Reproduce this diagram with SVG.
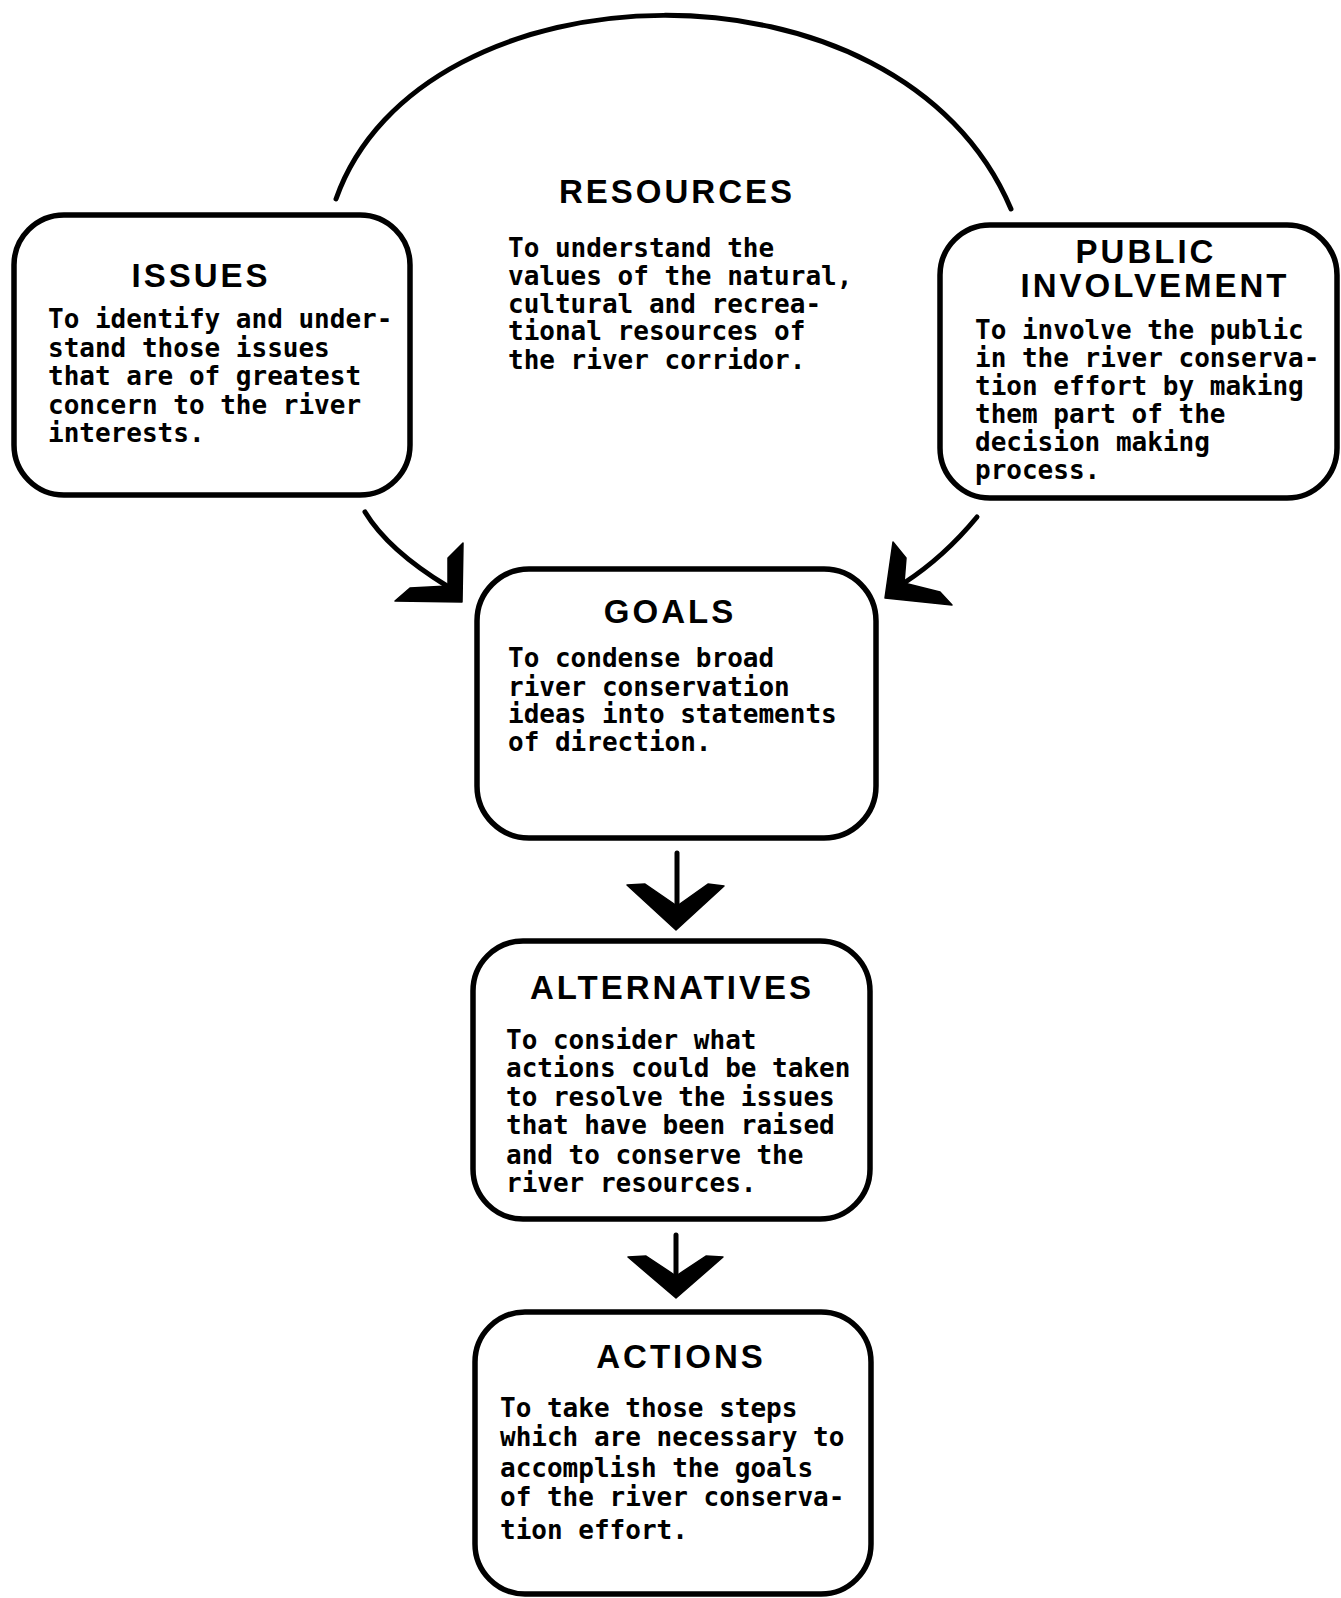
<svg xmlns="http://www.w3.org/2000/svg" width="1341" height="1598" viewBox="0 0 1341 1598">
<style>
.box{fill:#fff;stroke:#000;stroke-width:5.5}
.title{font-family:"Liberation Sans",Arial,sans-serif;font-weight:bold;font-size:33px;letter-spacing:3px;text-anchor:middle;fill:#000}
.body{font-family:"DejaVu Sans Mono","Liberation Mono",monospace;font-weight:bold;font-size:26px;fill:#000}
.line{fill:none;stroke:#000;stroke-width:5;stroke-linecap:round}
.head{fill:#000;stroke:#000;stroke-width:1.5;stroke-linejoin:round}
</style>
<rect width="1341" height="1598" fill="#fff"/>
<g id="connectors">
<path class="line" d="M336,199 C420,-40 900,-55 1011,209"/>
<path class="line" d="M365,512 Q388,550 447,586"/>
<polygon class="head" points="463,543 448,558 448,586 410,588 395,601 462,602"/>
<path class="line" d="M977,517 Q944,557 904,583"/>
<polygon class="head" points="893,542 906,558 904,583 940,592 952,605 885,598"/>
<path class="line" d="M677,853 L677,905"/>
<polygon class="head" points="627,885 645,884 677,906 708,884 724,886 676,930"/>
<path class="line" d="M676,1235 L676,1276"/>
<polygon class="head" points="628,1257 646,1256 676,1276 706,1256 723,1257 676,1298"/>
</g>
<g id="issues">
<rect class="box" x="14" y="215" width="396" height="280" rx="50"/>
<text class="title" x="201" y="287">ISSUES</text>
<text class="body" x="48" y="328">To identify and under-</text>
<text class="body" x="48" y="357">stand those issues</text>
<text class="body" x="48" y="385">that are of greatest</text>
<text class="body" x="48" y="414">concern to the river</text>
<text class="body" x="48" y="442">interests.</text>
</g>
<g id="resources">
<text class="title" x="677" y="203">RESOURCES</text>
<text class="body" x="508" y="257">To understand the</text>
<text class="body" x="508" y="285">values of the natural,</text>
<text class="body" x="508" y="313">cultural and recrea-</text>
<text class="body" x="508" y="340">tional resources of</text>
<text class="body" x="508" y="369">the river corridor.</text>
</g>
<g id="public-involvement">
<rect class="box" x="940" y="225" width="397" height="273" rx="50"/>
<text class="title" x="1146" y="263">PUBLIC</text>
<text class="title" x="1155" y="297">INVOLVEMENT</text>
<text class="body" x="975" y="339">To involve the public</text>
<text class="body" x="975" y="367">in the river conserva-</text>
<text class="body" x="975" y="395">tion effort by making</text>
<text class="body" x="975" y="423">them part of the</text>
<text class="body" x="975" y="451">decision making</text>
<text class="body" x="975" y="479">process.</text>
</g>
<g id="goals">
<rect class="box" x="477" y="569" width="399" height="269" rx="52"/>
<text class="title" x="670" y="623">GOALS</text>
<text class="body" x="508" y="667">To condense broad</text>
<text class="body" x="508" y="696">river conservation</text>
<text class="body" x="508" y="723">ideas into statements</text>
<text class="body" x="508" y="751">of direction.</text>
</g>
<g id="alternatives">
<rect class="box" x="473" y="941" width="397" height="278" rx="50"/>
<text class="title" x="672" y="999">ALTERNATIVES</text>
<text class="body" x="506" y="1049">To consider what</text>
<text class="body" x="506" y="1077">actions could be taken</text>
<text class="body" x="506" y="1106">to resolve the issues</text>
<text class="body" x="506" y="1134">that have been raised</text>
<text class="body" x="506" y="1164">and to conserve the</text>
<text class="body" x="506" y="1192">river resources.</text>
</g>
<g id="actions">
<rect class="box" x="475" y="1312" width="396" height="282" rx="50"/>
<text class="title" x="681" y="1368">ACTIONS</text>
<text class="body" x="500" y="1417">To take those steps</text>
<text class="body" x="500" y="1446">which are necessary to</text>
<text class="body" x="500" y="1477">accomplish the goals</text>
<text class="body" x="500" y="1506">of the river conserva-</text>
<text class="body" x="500" y="1539">tion effort.</text>
</g>
</svg>
